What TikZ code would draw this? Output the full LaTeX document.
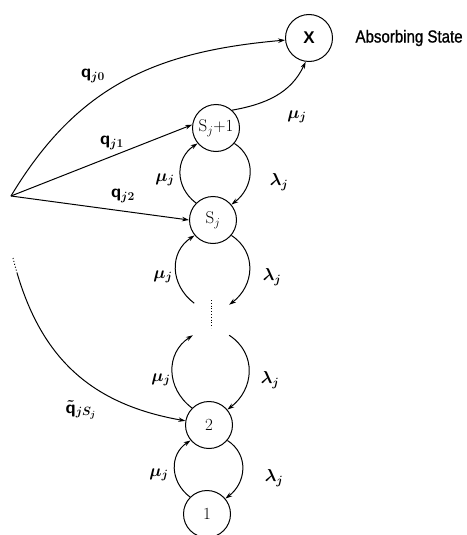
\documentclass[tikz,border=0pt]{standalone}
\usepackage{fontspec}
\newfontfamily\lab{Liberation Sans}
\newfontfamily\labn[FakeStretch=0.86,FakeBold=1]{Liberation Sans}
\usetikzlibrary{arrows.meta}
\begin{document}
\begin{tikzpicture}[x=1pt,y=1pt,
  st/.style={circle,draw,line width=1pt,minimum size=47pt,inner sep=0pt,font=\fontsize{17}{20}\selectfont},
  ghost/.style={circle,minimum size=47pt,inner sep=0pt},
  arr/.style={line width=1pt,-{Stealth[length=7pt,width=4.5pt]}},
  lbl/.style={font=\boldmath\fontsize{18}{21}\selectfont},
  muloop/.style={out=143,in=213,looseness=1.15},
  laloop/.style={out=-33,in=37,looseness=1.15}]
\useasboundingbox (0,0) rectangle (466,-535);
% states
\node[st,font=\lab\bfseries\fontsize{17}{20}\selectfont] (X) at (309,-38) {X};
\node[anchor=west,font=\labn\fontsize{17.5}{20}\selectfont] (abs) at (352,-38) {Absorbing State};
\node[st] (sp1) at (216,-128) {S$_j$+1};
\node[st] (sj) at (213,-220) {S$_j$};
\node[ghost] (d) at (211,-320) {};
\node[st] (n2) at (209,-425) {2};
\node[st] (n1) at (207,-514) {1};
\coordinate (src) at (11,-196);
\coordinate (qa) at (13,-258);
\coordinate (dt) at ([yshift=20pt]d.center);
\coordinate (db) at ([yshift=-8pt]d.center);
% dots
\draw[line width=0.8pt,dotted] (dt) -- (db);
% inflows
\draw[arr] (src) to[out=59,in=185,looseness=1.05] (X);
\draw[arr] (src) -- (sp1.172);
\draw[arr] (src) -- (sj.180);
\draw[arr,dash pattern=on 1pt off 2pt on 1pt off 2pt on 1pt off 2pt on 1pt off 2pt on 1pt off 2pt on 600pt] (qa) to[out=-76,in=170,looseness=1.07] (n2);
\draw[arr] (sp1.48) to[out=10,in=245] (X.262);
% loops
\draw[arr] (sj.135) to[muloop] (sp1.220);
\draw[arr] (sp1.-40) to[laloop] (sj.40);
\draw[arr] (d.135) to[muloop] (sj.220);
\draw[arr] (sj.-40) to[laloop] (d.40);
\draw[arr] (n2.135) to[muloop] (d.220);
\draw[arr] (d.-40) to[laloop] (n2.40);
\draw[arr] (n1.135) to[muloop] (n2.220);
\draw[arr] (n2.-40) to[laloop] (n1.40);
% labels
\node[lbl] (l0) at (93,-76) {$\mathsf{q}_{j0}$};
\node[lbl] (l1) at (112,-143) {$\mathsf{q}_{j1}$};
\node[lbl] (l2) at (123,-196) {$\mathsf{q}_{j2}$};
\node[lbl] (l3) at (81,-410) {$\tilde{\mathsf{q}}_{jS_j}$};
\node[lbl] (mx) at (297,-117) {$\mu_j$};
\node[lbl] (m1) at (165,-180) {$\mu_j$};
\node[lbl] (a1) at (279,-182) {$\lambda_j$};
\node[lbl] (m2) at (163,-277) {$\mu_j$};
\node[lbl] (a2) at (272,-277) {$\lambda_j$};
\node[lbl] (m3) at (161,-380) {$\mu_j$};
\node[lbl] (a3) at (270,-380) {$\lambda_j$};
\node[lbl] (m4) at (159,-475) {$\mu_j$};
\node[lbl] (a4) at (274,-478) {$\lambda_j$};
\end{tikzpicture}
\end{document}
